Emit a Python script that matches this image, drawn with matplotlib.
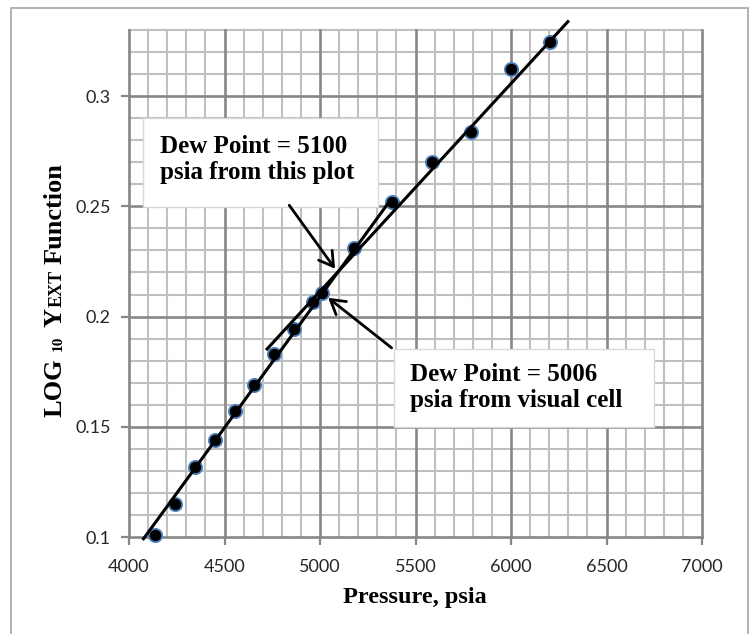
import numpy as np
import matplotlib.pyplot as plt
from matplotlib.patches import Rectangle

# points
pressure = [4136, 4241, 4346, 4450, 4555, 4656, 4759, 4864, 4963, 5009,
            5178, 5375, 5585, 5791, 6000, 6204]
log_yext = [0.1009, 0.1150, 0.1317, 0.1438, 0.1570, 0.1691, 0.1832, 0.1945,
            0.2064, 0.2108, 0.2309, 0.2520, 0.2699, 0.2838, 0.3123, 0.3247]

# two straight lines: low pressure points and high pressure points
low_line_p = [4076, 5366]
low_line_y = [0.0992, 0.2525]
high_line_p = [4723, 6298]
high_line_y = [0.1853, 0.3338]

x_ticks = [4000, 4500, 5000, 5500, 6000, 6500, 7000]
y_ticks = [0.1, 0.15, 0.2, 0.25, 0.3]
y_tick_labels = ['0.1', '0.15', '0.2', '0.25', '0.3']

note_plot = 'Dew Point = 5100\npsia from this plot'
note_cell = 'Dew Point = 5006\npsia from visual cell'

serif = 'Liberation Serif'
minor_c = '#c0c0c0'
major_c = '#878787'

plt.rcParams['font.family'] = 'Lato'

fig = plt.figure(figsize=(7.54, 6.34), dpi=100)
ax = fig.add_axes([129 / 754, 1 - 537 / 634, 573 / 754, 507 / 634])
ax.set_xlim(4000, 7000)
ax.set_ylim(0.1, 0.33)

# graph paper grid
for p in np.arange(4000, 7001, 100):
    major = p % 500 == 0
    ax.axvline(p, color=major_c if major else minor_c, lw=1.9 if major else 1.5,
               zorder=1 if major else 0.5, clip_on=False)
for v in np.arange(0.10, 0.3301, 0.01):
    major = round(v * 100) % 5 == 0
    ax.axhline(v, color=major_c if major else minor_c, lw=1.9 if major else 1.5,
               zorder=1 if major else 0.5, clip_on=False)

for s in ax.spines.values():
    s.set_visible(False)

ax.set_xticks(x_ticks)
ax.set_yticks(y_ticks)
ax.set_yticklabels(y_tick_labels)
ax.tick_params(axis='both', length=6, width=1.6, color=major_c, direction='out',
               labelsize=13, labelcolor='#262626', pad=7)
ax.tick_params(axis='x', pad=10)

ax.plot(pressure, log_yext, 'o', ms=9.5, mfc='black', mec='#4a7ebb', mew=1.3,
        zorder=3, clip_on=False)
ax.plot(low_line_p, low_line_y, color='black', lw=2.2, zorder=4, clip_on=False)
ax.plot(high_line_p, high_line_y, color='black', lw=2.2, zorder=4, clip_on=False)

# text boxes
ax.add_patch(Rectangle((4073, 0.2499), 1231, 0.0400, facecolor='white',
                       edgecolor='#d9d9d9', lw=1, zorder=5, clip_on=False))
ax.text(4162, 0.2713, note_plot, ha='left', va='center', fontsize=18,
        fontweight='bold', family=serif, zorder=6)
ax.add_patch(Rectangle((5387, 0.1500), 1362, 0.0355, facecolor='white',
                       edgecolor='#d9d9d9', lw=1, zorder=5, clip_on=False))
ax.text(5471, 0.1678, note_cell, ha='left', va='center', fontsize=18,
        fontweight='bold', family=serif, zorder=6)

arrow = dict(arrowstyle='->,head_length=0.5,head_width=0.3', color='black',
             lw=2, mutation_scale=20, shrinkA=0, shrinkB=0)
ax.annotate('', xy=(5079, 0.2217), xytext=(4839, 0.2505), arrowprops=arrow, zorder=6)
ax.annotate('', xy=(5043, 0.2085), xytext=(5375, 0.1858), arrowprops=arrow, zorder=6)

fig.text(415 / 754, 31 / 634, 'Pressure, psia', ha='center', va='baseline',
         fontsize=17.5, fontweight='bold', family=serif)

# y label built from pieces (small "10" and small caps "EXT")
fig.canvas.draw()
renderer = fig.canvas.get_renderer()
y = 634 - 417
for txt, size, gap in [('LOG', 19, 7), ('10', 11, 9), ('Y', 19, 1),
                       ('EXT', 13, 6), ('Function', 19, 0)]:
    t = fig.text(62 / 754, y / 634, txt, rotation=90, rotation_mode='anchor',
                 ha='left', va='baseline', fontsize=size, fontweight='bold',
                 family=serif)
    bb = t.get_window_extent(renderer)
    y = bb.y1 + gap

# outer frame of the chart
fig.patches.append(Rectangle((11 / 754, -0.05), 737 / 754, 626 / 634 + 0.05,
                             transform=fig.transFigure, fill=False,
                             edgecolor='#a6a6a6', lw=1.2))

fig.savefig('out.png', dpi=100)
